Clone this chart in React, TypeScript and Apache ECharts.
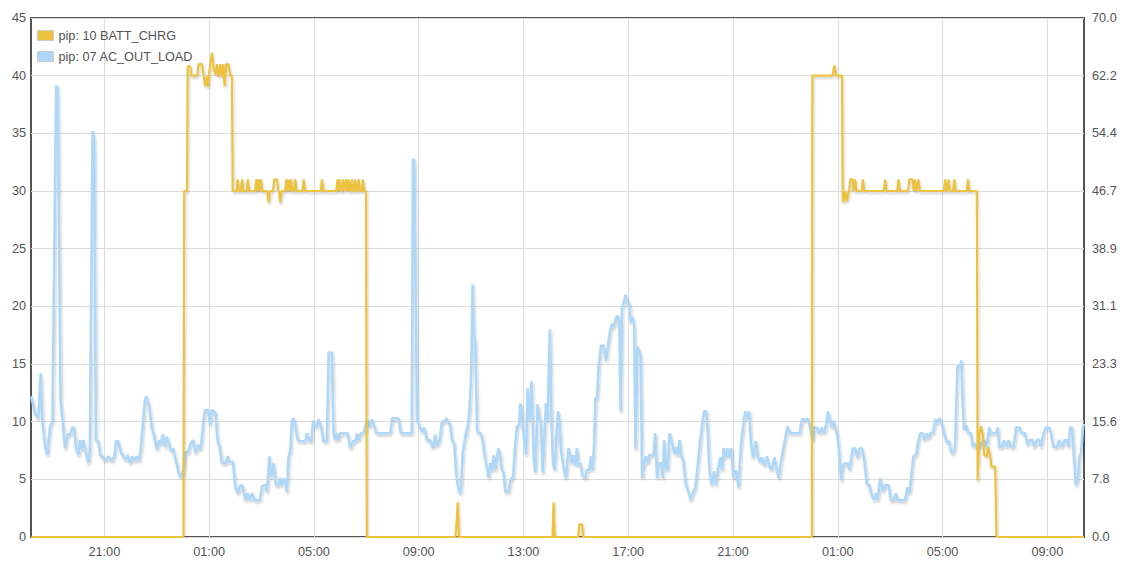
import React, { useEffect, useRef } from "react";
import * as echarts from "echarts";

// Series names (legend order)
const chargeName = "pip: 10 BATT_CHRG";
const loadName = "pip: 07 AC_OUT_LOAD";

// X axis: hours counted from 00:00 of the first day
const timeTickValues = [21, 25, 29, 33, 37, 41, 45, 49, 53, 57];
const timeTickLabels = ["21:00", "01:00", "05:00", "09:00", "13:00", "17:00", "21:00", "01:00", "05:00", "09:00"];
const rightTickLabels = ["0.0", "7.8", "15.6", "23.3", "31.1", "38.9", "46.7", "54.4", "62.2", "70.0"];

// pip: 10 BATT_CHRG
const chargeTimes = [
  18.21, 24.02, 24.05, 24.16, 24.18, 24.28, 24.32, 24.54, 24.6, 24.73, 24.79, 24.85, 24.92, 24.96, 25.02, 25.11,
  25.17, 25.24, 25.3, 25.36, 25.43, 25.49, 25.55, 25.59, 25.66, 25.74, 25.81, 25.87, 25.9, 26.04, 26.09, 26.14,
  26.21, 26.26, 26.31, 26.43, 26.48, 26.53, 26.75, 26.8, 26.845, 26.89, 26.935, 26.98, 27.03, 27.22, 27.27, 27.32,
  27.44, 27.49, 27.59, 27.64, 27.67, 27.72, 27.77, 27.9, 27.95, 27.99, 28.03, 28.08, 28.13, 28.18, 28.24, 28.29,
  28.34, 28.56, 28.61, 28.66, 29.26, 29.31, 29.36, 29.85, 29.9, 29.94, 29.98, 30.03, 30.07, 30.11, 30.16, 30.23,
  30.28, 30.32, 30.37, 30.4, 30.45, 30.5, 30.53, 30.58, 30.63, 30.66, 30.71, 30.76, 30.82, 30.87, 30.92, 30.99,
  31.02, 34.4, 34.44, 34.49, 34.54, 38.11, 38.15, 38.19, 39.09, 39.13, 39.24, 39.28, 48.01, 48.03, 48.8, 48.87,
  48.94, 49.16, 49.19, 49.22, 49.28, 49.35, 49.41, 49.44, 49.47, 49.57, 49.6, 49.62, 49.66, 49.71, 49.91, 49.96,
  50.01, 50.76, 50.81, 50.86, 51.27, 51.32, 51.37, 51.68, 51.73, 51.85, 51.9, 51.95, 52.0, 52.08, 52.13, 53.05,
  53.1, 53.15, 53.18, 53.23, 53.28, 53.4, 53.45, 53.5, 53.92, 53.97, 54.02, 54.31, 54.34, 54.41, 54.47, 54.54,
  54.59, 54.69, 54.74, 54.82, 54.86, 55.01, 55.06, 58.4,
];
const chargeValues = [
  0, 0, 30, 30, 40.8, 40.8, 40, 40, 41, 41, 40, 39.1, 40, 39.0, 40.6, 42,
  40.7, 40.1, 41, 39.9, 41, 39.9, 41, 39.1, 41, 41, 40, 40, 30, 30, 31, 30,
  30, 31, 30, 30, 31, 30, 30, 31, 30, 31, 30, 31, 30, 30, 29, 30,
  30, 31, 31, 30, 30, 29, 30, 30, 31, 30, 31, 30, 31, 30, 30, 31,
  30, 30, 31, 30, 30, 31, 30, 30, 31, 30, 31, 30, 30, 31, 30, 31,
  30, 31, 30, 30, 31, 30, 30, 31, 30, 30, 31, 30, 30, 31, 30, 30,
  0, 0, 1.0, 3.0, 0, 0, 3.0, 0, 0, 1.1, 1.1, 0, 0, 40, 40, 40.9,
  40, 40, 29.1, 29.1, 30, 29.1, 30, 30, 31, 31, 30, 30, 31, 30, 30, 31,
  30, 30, 31, 30, 30, 31, 30, 30, 31, 31, 30, 31, 30, 31, 30, 30,
  31, 30, 30, 31, 30, 30, 31, 30, 30, 31, 30, 30, 4.9, 9.0, 9.6, 8.8,
  7.1, 7.0, 7.8, 7.0, 6.1, 6.1, 0, 0,
];

// pip: 07 AC_OUT_LOAD
const loadTimes = [
  18.21, 18.35, 18.48, 18.57, 18.63, 18.74, 18.82, 18.93, 19.02, 19.16, 19.22, 19.33, 19.41, 19.5, 19.59, 19.69,
  19.78, 19.84, 19.92, 20.01, 20.07, 20.13, 20.2, 20.29, 20.39, 20.45, 20.55, 20.61, 20.68, 20.77, 20.84, 20.92,
  21.03, 21.15, 21.28, 21.38, 21.45, 21.53, 21.64, 21.73, 21.81, 21.89, 21.98, 22.07, 22.15, 22.23, 22.32, 22.39,
  22.46, 22.55, 22.61, 22.71, 22.81, 22.91, 23.0, 23.09, 23.16, 23.23, 23.32, 23.38, 23.47, 23.55, 23.63, 23.7,
  23.79, 23.85, 23.93, 24.02, 24.1, 24.21, 24.29, 24.4, 24.48, 24.59, 24.68, 24.78, 24.84, 24.97, 25.03, 25.1,
  25.24, 25.32, 25.4, 25.49, 25.62, 25.71, 25.78, 25.91, 26.0, 26.09, 26.19, 26.28, 26.38, 26.47, 26.55, 26.64,
  26.73, 26.93, 27.02, 27.15, 27.21, 27.3, 27.37, 27.46, 27.55, 27.65, 27.72, 27.78, 27.84, 27.92, 27.97, 28.03,
  28.1, 28.16, 28.23, 28.29, 28.38, 28.48, 28.67, 28.74, 28.82, 28.9, 28.97, 29.05, 29.12, 29.19, 29.28, 29.37,
  29.5, 29.56, 29.69, 29.75, 29.82, 29.88, 29.94, 30.01, 30.29, 30.39, 30.49, 30.58, 30.65, 30.71, 30.8, 30.92,
  31.03, 31.13, 31.22, 31.31, 31.38, 31.47, 31.92, 31.98, 32.23, 32.32, 32.74, 32.78, 32.83, 32.94, 33.02, 33.13,
  33.21, 33.32, 33.44, 33.55, 33.63, 33.7, 33.8, 33.89, 33.98, 34.05, 34.14, 34.21, 34.27, 34.36, 34.42, 34.48,
  34.55, 34.61, 34.69, 34.78, 34.87, 34.94, 35.01, 35.06, 35.1, 35.16, 35.23, 35.29, 35.38, 35.45, 35.52, 35.61,
  35.67, 35.73, 35.8, 35.86, 35.92, 35.99, 36.05, 36.11, 36.18, 36.24, 36.31, 36.43, 36.52, 36.6, 36.69, 36.75,
  36.84, 36.88, 36.94, 37.0, 37.1, 37.16, 37.23, 37.31, 37.39, 37.45, 37.54, 37.6, 37.67, 37.73, 37.79, 37.86,
  37.92, 38.01, 38.07, 38.13, 38.19, 38.25, 38.32, 38.38, 38.44, 38.53, 38.62, 38.72, 38.79, 38.85, 38.91, 38.98,
  39.04, 39.1, 39.17, 39.26, 39.36, 39.42, 39.51, 39.58, 39.64, 39.7, 39.75, 39.81, 39.87, 39.96, 40.06, 40.15,
  40.23, 40.31, 40.38, 40.44, 40.5, 40.57, 40.66, 40.71, 40.76, 40.82, 40.9, 40.97, 41.04, 41.1, 41.16, 41.23,
  41.28, 41.35, 41.42, 41.48, 41.53, 41.61, 41.68, 41.74, 41.81, 41.97, 42.03, 42.1, 42.16, 42.26, 42.32, 42.37,
  42.44, 42.5, 42.58, 42.64, 42.71, 42.77, 42.83, 42.9, 42.96, 43.02, 43.1, 43.19, 43.29, 43.39, 43.47, 43.56,
  43.65, 43.72, 43.81, 43.9, 43.98, 44.04, 44.1, 44.19, 44.28, 44.35, 44.42, 44.51, 44.58, 44.64, 44.7, 44.79,
  44.87, 44.93, 45.02, 45.12, 45.21, 45.3, 45.4, 45.47, 45.55, 45.62, 45.68, 45.76, 45.87, 45.95, 46.04, 46.1,
  46.19, 46.29, 46.38, 46.48, 46.58, 46.68, 46.74, 46.83, 46.93, 46.99, 47.08, 47.18, 47.54, 47.63, 47.88, 47.95,
  48.03, 48.1, 48.2, 48.3, 48.39, 48.48, 48.56, 48.62, 48.71, 48.77, 48.84, 48.9, 48.99, 49.05, 49.13, 49.19,
  49.28, 49.37, 49.45, 49.51, 49.58, 49.66, 49.75, 49.83, 49.92, 50.01, 50.11, 50.2, 50.3, 50.39, 50.47, 50.52,
  50.62, 50.72, 50.81, 50.94, 51.03, 51.13, 51.22, 51.28, 51.57, 51.66, 51.74, 51.83, 51.89, 51.99, 52.08, 52.15,
  52.25, 52.31, 52.4, 52.46, 52.55, 52.65, 52.72, 52.81, 52.88, 52.97, 53.06, 53.16, 53.25, 53.33, 53.42, 53.48,
  53.57, 53.67, 53.72, 53.76, 53.82, 53.9, 53.99, 54.08, 54.16, 54.24, 54.33, 54.41, 54.5, 54.59, 54.69, 54.78,
  54.84, 54.94, 55.05, 55.11, 55.17, 55.26, 55.35, 55.43, 55.52, 55.61, 55.71, 55.81, 55.94, 56.03, 56.15, 56.24,
  56.34, 56.43, 56.5, 56.6, 56.7, 56.76, 56.85, 56.94, 57.07, 57.14, 57.23, 57.36, 57.45, 57.55, 57.64, 57.75,
  57.81, 57.87, 57.94, 58.0, 58.09, 58.17, 58.23, 58.29, 58.36, 58.4,
];
const loadValues = [
  12.2, 10.7, 10.3, 14.2, 10.2, 7.8, 7.1, 9.6, 10.0, 39.1, 39.0, 11.9, 10.0, 7.7, 8.9, 8.9,
  9.5, 9.5, 7.7, 7.1, 8.4, 7.6, 8.4, 7.4, 6.4, 7.6, 35.2, 34.5, 8.4, 8.3, 7.1, 7.0,
  6.6, 7.0, 6.6, 7.0, 8.3, 8.3, 7.3, 7.0, 6.7, 7.1, 6.4, 7.0, 6.6, 7.0, 6.6, 7.6,
  9.5, 11.9, 12.2, 11.4, 9.5, 8.7, 7.6, 8.4, 8.1, 8.9, 7.8, 8.7, 8.1, 7.4, 7.7, 6.9,
  6.1, 5.4, 5.2, 5.8, 7.3, 7.4, 8.1, 8.4, 7.3, 8.0, 7.6, 10.0, 11.0, 11.0, 9.7, 11.0,
  10.8, 8.4, 7.8, 6.4, 6.4, 7.0, 6.5, 6.5, 4.4, 3.8, 4.5, 4.4, 3.2, 3.8, 3.2, 3.8,
  3.2, 3.2, 4.4, 4.5, 3.9, 7.0, 5.2, 6.4, 4.5, 4.5, 5.1, 4.5, 5.1, 4.7, 3.9, 6.9,
  7.5, 10.1, 10.3, 9.7, 8.4, 8.3, 8.3, 9.0, 8.3, 8.3, 10.1, 9.6, 9.6, 10.2, 9.5, 8.3,
  8.3, 16.0, 16.0, 9.0, 8.4, 9.0, 8.4, 9.0, 9.0, 7.7, 8.3, 8.3, 9.0, 8.4, 9.0, 9.1,
  10.2, 9.6, 10.2, 9.6, 9.0, 9.0, 9.0, 10.3, 10.3, 9.0, 9.0, 32.7, 32.7, 10.1, 9.7, 9.1,
  9.5, 8.4, 8.4, 7.7, 8.9, 7.9, 8.4, 10.0, 10.0, 10.3, 10.0, 9.6, 8.4, 8.1, 5.8, 4.7,
  3.8, 4.0, 7.5, 8.7, 9.6, 10.9, 14.5, 21.9, 17.4, 17.1, 9.3, 9.0, 9.0, 8.3, 7.0, 6.0,
  5.1, 6.4, 5.8, 7.1, 5.8, 7.0, 7.7, 7.1, 5.8, 5.6, 3.9, 3.9, 5.1, 5.1, 8.1, 9.6,
  9.7, 11.6, 11.0, 9.0, 7.1, 12.9, 10.1, 13.5, 7.0, 5.6, 11.5, 10.5, 9.9, 5.6, 8.1, 11.6,
  10.1, 18.0, 10.1, 6.4, 5.8, 8.1, 10.9, 9.9, 7.4, 6.1, 5.1, 7.7, 7.1, 6.4, 7.1, 6.2,
  7.7, 6.2, 6.4, 5.3, 5.1, 5.8, 5.8, 7.0, 5.8, 8.1, 12.1, 12.0, 14.7, 16.6, 16.6, 15.3,
  16.6, 17.9, 18.5, 18.2, 18.6, 19.2, 18.8, 10.9, 19.8, 20.3, 21.0, 20.2, 20.3, 18.6, 19.1, 18.3,
  7.6, 16.5, 16.1, 15.6, 5.1, 6.5, 7.0, 6.4, 7.1, 7.1, 9.0, 5.1, 6.4, 6.4, 5.1, 8.4,
  6.1, 5.8, 9.0, 8.5, 7.8, 7.2, 7.8, 7.1, 8.4, 7.1, 6.6, 4.7, 4.0, 3.2, 3.8, 4.3,
  6.1, 7.8, 9.5, 10.9, 10.9, 9.0, 5.8, 4.5, 5.7, 4.5, 5.8, 6.9, 5.8, 7.7, 6.9, 7.7,
  6.9, 7.7, 5.1, 5.8, 4.3, 7.8, 9.9, 10.9, 10.3, 10.9, 8.3, 6.9, 8.3, 6.9, 6.5, 6.9,
  6.2, 7.0, 6.2, 5.8, 6.9, 5.8, 5.1, 6.5, 7.8, 8.5, 9.6, 9.0, 9.0, 10.2, 10.2, 9.5,
  8.4, 9.5, 9.5, 9.0, 9.5, 9.0, 9.8, 10.9, 10.1, 9.5, 10.1, 9.5, 8.8, 7.4, 4.9, 6.2,
  6.4, 6.4, 5.8, 6.9, 7.7, 7.7, 6.9, 7.7, 7.7, 6.7, 4.6, 4.5, 3.6, 3.2, 3.8, 3.2,
  5.1, 4.0, 4.5, 4.5, 3.2, 3.2, 3.8, 3.2, 3.2, 4.3, 3.8, 5.8, 7.0, 7.1, 8.4, 9.0,
  9.0, 8.4, 9.0, 8.6, 9.0, 9.1, 10.2, 9.9, 10.3, 9.9, 9.0, 8.2, 8.3, 7.3, 7.4, 8.0,
  14.8, 14.8, 15.3, 12.2, 9.3, 9.7, 9.0, 9.0, 7.8, 8.1, 7.7, 8.1, 8.1, 8.4, 7.8, 9.5,
  9.0, 9.0, 9.0, 9.5, 7.8, 7.8, 8.4, 7.8, 8.4, 7.8, 7.8, 9.5, 9.5, 9.0, 9.0, 8.0,
  8.4, 8.4, 7.8, 8.4, 8.4, 7.8, 9.0, 9.5, 9.5, 9.0, 7.8, 7.8, 8.4, 7.8, 8.4, 8.4,
  7.8, 9.5, 9.5, 7.5, 4.5, 5.1, 7.0, 7.3, 9.5, 9.8,
];

const chargeColor = "#edc240";
const loadColor = "#afd8f8";
const textColor = "#545454";
const fontFamily = "'Liberation Sans', Arial, sans-serif";

function pairs(ts: number[], vs: number[]) {
  return ts.map((t, i) => [t, vs[i]]);
}

export default function App() {
  const ref = useRef<HTMLDivElement>(null);

  useEffect(() => {
    if (!ref.current) return;
    const chart = echarts.init(ref.current, null, { renderer: "svg" });
    const lineShadow = {
      shadowColor: "rgba(0,0,0,0.2)",
      shadowBlur: 2,
      shadowOffsetX: 1,
      shadowOffsetY: 2,
    };
    chart.setOption({
      animation: false,
      backgroundColor: "#ffffff",
      textStyle: { fontFamily },
      grid: {
        left: 31,
        right: 43,
        top: 18,
        bottom: 33,
        show: true,
        borderColor: textColor,
        borderWidth: 2,
        containLabel: false,
      },
      legend: {
        data: [chargeName, loadName],
        orient: "vertical",
        left: 37,
        top: 29,
        padding: 0,
        itemWidth: 16,
        itemHeight: 10,
        itemGap: 8,
        icon: "rect",
        selectedMode: false,
        itemStyle: { borderColor: "#cccccc", borderWidth: 1 },
        textStyle: { color: textColor, fontSize: 12.7, fontFamily },
      },
      xAxis: {
        type: "value",
        min: 18.2,
        max: 58.4,
        axisLine: { show: false },
        axisTick: { show: false, customValues: timeTickValues },
        splitLine: { show: true, lineStyle: { color: "#dcdcdc", width: 1 } },
        axisLabel: {
          customValues: timeTickValues,
          color: textColor,
          fontSize: 12.7,
          fontFamily,
          margin: 8,
          formatter: (v: number) => timeTickLabels[Math.round((v - timeTickValues[0]) / 4)] ?? "",
        },
      },
      yAxis: [
        {
          type: "value",
          min: 0,
          max: 45,
          interval: 5,
          axisLine: { show: false },
          axisTick: { show: false },
          splitLine: { show: true, lineStyle: { color: "#dcdcdc", width: 1 } },
          axisLabel: { color: textColor, fontSize: 12.7, fontFamily, margin: 5 },
        },
        {
          type: "value",
          min: 0,
          max: 70,
          interval: 70 / 9,
          position: "right",
          axisLine: { show: false },
          axisTick: { show: false },
          splitLine: { show: false },
          axisLabel: {
            color: textColor,
            fontSize: 12.7,
            fontFamily,
            margin: 8,
            formatter: (v: number) => rightTickLabels[Math.round((v * 9) / 70)] ?? "",
          },
        },
      ],
      series: [
        {
          name: loadName,
          type: "line",
          yAxisIndex: 0,
          data: pairs(loadTimes, loadValues),
          showSymbol: false,
          symbol: "none",
          color: loadColor,
          itemStyle: { color: loadColor },
          lineStyle: { color: loadColor, width: 2.6, ...lineShadow },
          z: 2,
        },
        {
          name: chargeName,
          type: "line",
          yAxisIndex: 0,
          data: pairs(chargeTimes, chargeValues),
          showSymbol: false,
          symbol: "none",
          color: chargeColor,
          itemStyle: { color: chargeColor },
          lineStyle: { color: chargeColor, width: 2.2, ...lineShadow },
          z: 3,
        },
      ],
    });
    return () => chart.dispose();
  }, []);

  return (
    <div
      ref={ref}
      style={{ position: "fixed", left: 0, top: 0, width: 1127, height: 570, background: "#ffffff" }}
    />
  );
}
